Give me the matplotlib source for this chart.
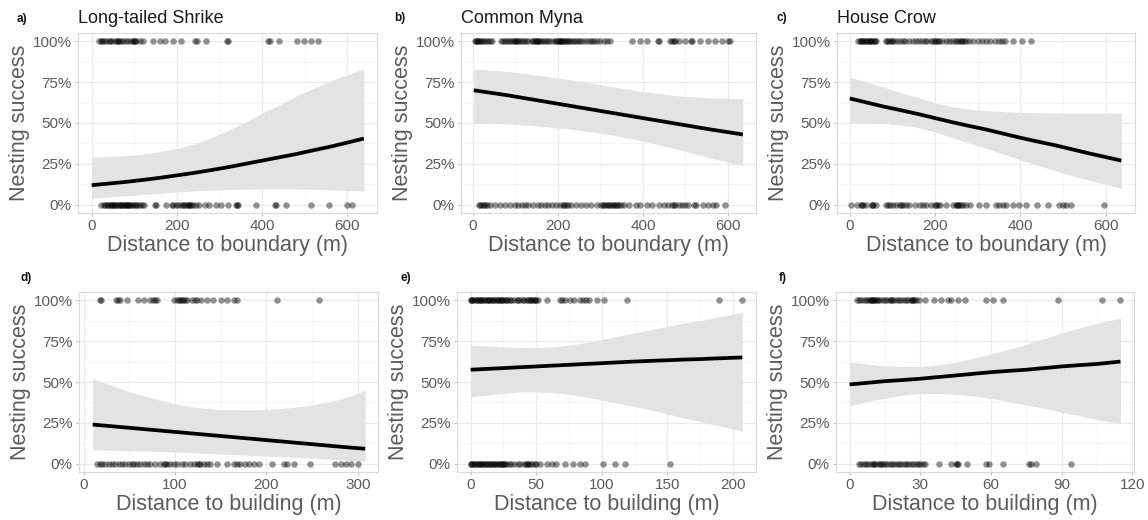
import matplotlib
matplotlib.use("Agg")
import matplotlib.pyplot as plt
from matplotlib.ticker import MultipleLocator

plt.rcParams['font.family'] = ['Liberation Sans', 'DejaVu Sans']

# ---------------- data ----------------
titles = ["Long-tailed Shrike", "Common Myna", "House Crow", "", "", ""]
letters = ["a)", "b)", "c)", "d)", "e)", "f)"]
xlabels = ["Distance to boundary (m)"] * 3 + ["Distance to building (m)"] * 3
y_ticks = [0, 0.25, 0.5, 0.75, 1.0]
y_ticklabels = ["0%", "25%", "50%", "75%", "100%"]

# Panel a – Long-tailed Shrike vs boundary
a_succ_x = [17, 21, 25, 30, 34, 40, 43, 48, 55, 60, 63, 65, 70, 74, 80, 86, 92, 96, 100, 102,
            104, 113, 121, 144, 160, 173, 191, 210, 243, 247, 269, 317, 320, 415, 418, 440,
            483, 499, 514, 531]
a_fail_x = [23, 28, 31, 35, 39, 43, 45, 47, 50, 52, 55, 58, 62, 65, 68, 70, 72, 75, 78, 80,
            83, 86, 88, 90, 94, 97, 101, 105, 110, 113, 118, 122, 148, 150, 175, 189, 192, 199,
            203, 210, 214, 218, 222, 226, 228, 232, 234, 238, 245, 253, 265, 275, 292, 304, 319,
            339, 341, 343, 386, 430, 432, 457, 514, 557, 600, 612]
a_fit_x = [0, 40, 80, 120, 160, 200, 240, 280, 320, 360, 400, 440, 480, 520, 560, 600, 639]
a_fit = [0.12, 0.13, 0.14, 0.152, 0.165, 0.18, 0.195, 0.212, 0.23, 0.25, 0.27, 0.29, 0.31,
         0.333, 0.355, 0.38, 0.405]
a_hi = [0.29, 0.295, 0.30, 0.31, 0.325, 0.345, 0.37, 0.41, 0.455, 0.505, 0.56, 0.61, 0.665,
        0.71, 0.755, 0.795, 0.83]
a_lo = [0.04, 0.048, 0.055, 0.063, 0.07, 0.078, 0.085, 0.09, 0.093, 0.096, 0.097, 0.097,
        0.097, 0.095, 0.092, 0.088, 0.085]

# Panel b – Common Myna vs boundary
b_succ_x = [5, 8, 10, 12, 15, 18, 22, 26, 30, 35, 40, 45, 65, 70, 75, 80, 85, 90, 95, 98, 100,
            103, 106, 110, 115, 120, 125, 130, 138, 142, 145, 148, 150, 153, 156, 160, 165, 170,
            175, 180, 185, 192, 196, 200, 203, 206, 208, 210, 213, 216, 220, 223, 226, 230, 235,
            240, 245, 250, 255, 262, 268, 275, 280, 285, 292, 300, 308, 315, 322, 375, 394, 410,
            436, 438, 464, 468, 472, 476, 484, 499, 512, 515, 534, 553, 569, 585, 600, 604]
b_fail_x = [15, 17, 22, 25, 28, 33, 41, 53, 64, 76, 88, 99, 107, 115, 123, 130, 142, 154, 161,
            169, 177, 185, 196, 204, 212, 215, 220, 223, 231, 243, 255, 266, 278, 293, 301, 305,
            309, 313, 317, 321, 325, 329, 332, 336, 340, 344, 348, 356, 367, 383, 394, 410, 422,
            437, 449, 460, 468, 472, 476, 484, 491, 499, 507, 519, 526, 542, 554, 565, 573, 592]
b_fit_x = [2, 80, 160, 240, 320, 400, 480, 560, 635]
b_fit = [0.70, 0.67, 0.635, 0.60, 0.565, 0.53, 0.495, 0.46, 0.43]
b_hi = [0.83, 0.815, 0.79, 0.76, 0.725, 0.692, 0.667, 0.652, 0.65]
b_lo = [0.50, 0.495, 0.48, 0.46, 0.43, 0.39, 0.34, 0.285, 0.24]

# Panel c – House Crow vs boundary
c_succ_x = [20, 23, 26, 29, 32, 35, 38, 41, 44, 47, 50, 53, 56, 59, 62, 85, 88, 92, 96, 100,
            104, 110, 117, 124, 130, 140, 148, 155, 162, 170, 176, 182, 190, 196, 200, 203, 206,
            210, 216, 225, 232, 240, 246, 252, 256, 260, 264, 268, 272, 280, 290, 300, 310, 320,
            330, 340, 350, 357, 365, 382, 405, 425]
c_fail_x = [4, 16, 27, 29, 31, 39, 51, 53, 55, 62, 86, 90, 94, 101, 109, 117, 120, 125, 132,
            140, 152, 164, 171, 179, 191, 199, 203, 207, 211, 226, 242, 249, 251, 253, 257, 261,
            265, 273, 281, 304, 320, 343, 351, 359, 366, 382, 398, 413, 440, 464, 491, 499, 507,
            518, 596]
c_fit_x = [0, 40, 80, 120, 160, 200, 240, 280, 320, 360, 400, 440, 480, 520, 560, 600, 637]
c_fit = [0.65, 0.625, 0.60, 0.578, 0.555, 0.53, 0.505, 0.482, 0.46, 0.435, 0.41, 0.387,
         0.365, 0.34, 0.315, 0.292, 0.27]
c_hi = [0.78, 0.75, 0.72, 0.685, 0.655, 0.625, 0.60, 0.585, 0.575, 0.57, 0.565, 0.562,
        0.56, 0.56, 0.56, 0.56, 0.56]
c_lo = [0.50, 0.50, 0.497, 0.488, 0.472, 0.445, 0.41, 0.378, 0.345, 0.31, 0.275, 0.242,
        0.21, 0.18, 0.15, 0.125, 0.10]

# Panel d – Long-tailed Shrike vs building
d_succ_x = [18, 19, 35, 38, 40, 47, 60, 66, 73, 76, 78, 80, 99, 102, 104, 106, 108, 109, 111,
            113, 119, 122, 124, 128, 135, 142, 150, 157, 164, 168, 212, 257]
d_fail_x = [14.6, 17.5, 20, 23.7, 27.4, 31, 34.7, 38.3, 42, 45.6, 49.3, 53, 54.7, 58.4, 62,
            65.7, 69.3, 73, 78.5, 84, 87.6, 89.4, 91.2, 95, 98.5, 102, 107.7, 111.3, 116.8,
            120.4, 124, 126, 127.7, 131.4, 135, 138.7, 146, 157, 164, 168, 171.5, 177, 180.7,
            186, 191.6, 206, 219, 222.6, 230, 248, 275.5, 281, 286.5, 292, 300]
d_fit_x = [10, 30, 50, 70, 90, 110, 130, 150, 170, 190, 210, 230, 250, 270, 290, 308]
d_fit = [0.24, 0.23, 0.22, 0.21, 0.20, 0.19, 0.18, 0.17, 0.16, 0.15, 0.14, 0.13, 0.12, 0.11,
         0.10, 0.092]
d_hi = [0.52, 0.48, 0.44, 0.41, 0.38, 0.355, 0.34, 0.332, 0.33, 0.33, 0.335, 0.345, 0.36,
        0.38, 0.41, 0.45]
d_lo = [0.085, 0.083, 0.08, 0.078, 0.075, 0.07, 0.065, 0.06, 0.055, 0.05, 0.045, 0.04,
        0.035, 0.027, 0.02, 0.015]

# Panel e – Common Myna vs building
e_succ_x = [0, 0.5, 1, 2, 3, 4.5, 5, 6, 7.5, 8, 9, 10, 11, 12.5, 13, 14, 15, 16.5, 17, 18,
            19, 20.5, 21, 22, 23.5, 24, 25, 26, 27.5, 28, 30, 31, 33, 35, 36, 38, 40, 41, 43,
            44, 45, 46, 47, 48, 49, 50, 51, 58, 68, 70, 72, 76, 79, 83, 86, 88, 90, 96, 102,
            119, 189, 207]
e_fail_x = [0, 0.5, 1, 2.5, 3, 4, 5.5, 6, 7, 8.5, 9, 10, 11.5, 12, 13, 14.5, 15, 16, 17.5,
            18, 19, 20, 21.5, 22, 23, 24.5, 25, 26, 27, 29, 31, 33, 36, 38, 41, 42, 43, 44, 45,
            47, 49, 50, 53, 58, 62, 65, 72, 78, 83, 87, 101, 110, 118, 152]
e_fit_x = [0, 12, 25, 37, 50, 62, 75, 87, 100, 112, 125, 137, 150, 162, 175, 190, 207]
e_fit = [0.575, 0.58, 0.585, 0.59, 0.595, 0.60, 0.605, 0.61, 0.615, 0.62, 0.625, 0.629,
         0.633, 0.637, 0.64, 0.645, 0.65]
e_hi = [0.725, 0.72, 0.715, 0.71, 0.71, 0.715, 0.725, 0.74, 0.76, 0.78, 0.80, 0.82, 0.84,
        0.86, 0.875, 0.90, 0.925]
e_lo = [0.41, 0.42, 0.43, 0.44, 0.44, 0.435, 0.425, 0.41, 0.39, 0.37, 0.35, 0.33, 0.305,
        0.28, 0.26, 0.23, 0.20]

# Panel f – House Crow vs building
f_succ_x = [3, 4, 5, 6, 7, 8, 8.5, 9, 9.5, 10, 10.5, 11, 11.5, 12, 13, 14, 15, 16, 17, 17.5,
            18, 19, 20, 21, 22, 23, 24, 25, 26, 26.5, 27, 27.5, 28, 29.5, 32, 36, 39, 42, 43,
            46, 49, 58, 61, 65, 88.5, 107, 115]
f_fail_x = [4, 5, 6, 7, 8, 9, 10, 10.5, 11, 12, 13, 13.5, 14, 15, 16, 17, 18, 19, 20, 21, 22,
            23, 24, 25, 26, 27, 28, 29, 30, 31, 32, 38, 43, 45, 45.5, 46, 50, 58, 59, 65, 76,
            77, 79, 94]
f_fit_x = [0, 7.5, 15, 22.5, 30, 37.5, 45, 52.5, 60, 67.5, 75, 82.5, 90, 97.5, 105, 115]
f_fit = [0.485, 0.495, 0.505, 0.512, 0.52, 0.53, 0.54, 0.55, 0.56, 0.568, 0.575, 0.585,
         0.595, 0.603, 0.61, 0.625]
f_hi = [0.62, 0.61, 0.60, 0.595, 0.595, 0.605, 0.62, 0.645, 0.67, 0.70, 0.73, 0.765, 0.80,
        0.83, 0.86, 0.89]
f_lo = [0.355, 0.38, 0.40, 0.42, 0.43, 0.43, 0.425, 0.415, 0.40, 0.38, 0.36, 0.34, 0.315,
        0.295, 0.27, 0.245]

panels = [
    (a_succ_x, a_fail_x, a_fit_x, a_fit, a_lo, a_hi),
    (b_succ_x, b_fail_x, b_fit_x, b_fit, b_lo, b_hi),
    (c_succ_x, c_fail_x, c_fit_x, c_fit, c_lo, c_hi),
    (d_succ_x, d_fail_x, d_fit_x, d_fit, d_lo, d_hi),
    (e_succ_x, e_fail_x, e_fit_x, e_fit, e_lo, e_hi),
    (f_succ_x, f_fail_x, f_fit_x, f_fit, f_lo, f_hi),
]
x_lims = [(-32, 670), (-28, 666), (-30, 669), (-5, 322), (-10.4, 217.5), (-5.75, 120.75)]
x_major = [200, 200, 200, 100, 50, 30]

# ---------------- layout ----------------
W, H = 1148, 520
boxes = [(78, 33, 299, 180), (461, 33, 295, 180), (837, 33, 298, 180),
         (79, 292, 299, 180), (457, 292, 299, 180), (836, 292, 298, 180)]
letter_pos = [(22, 19), (400, 18), (782, 18), (26, 278), (406, 278), (783, 278)]

fig = plt.figure(figsize=(W / 100, H / 100), dpi=100)
fig.patch.set_facecolor("white")

txt_col = "#5c5c5c"
for i, (succ, fail, fx, fy, lo, hi) in enumerate(panels):
    l, t, w, h = boxes[i]
    ax = fig.add_axes([l / W, 1 - (t + h) / H, w / W, h / H])
    ax.set_xlim(*x_lims[i])
    ax.set_ylim(-0.05, 1.05)
    ax.xaxis.set_major_locator(MultipleLocator(x_major[i]))
    ax.xaxis.set_minor_locator(MultipleLocator(x_major[i] / 2))
    ax.set_yticks(y_ticks)
    ax.set_yticklabels(y_ticklabels)
    ax.yaxis.set_minor_locator(MultipleLocator(0.125))
    ax.grid(True, which="major", color="#ebebeb", lw=0.9, zorder=0)
    ax.grid(True, which="minor", color="#f4f4f4", lw=0.6, zorder=0)
    ax.set_axisbelow(True)
    for s in ax.spines.values():
        s.set_color("#dadada")
        s.set_linewidth(0.8)
    ax.tick_params(which="major", length=2.5, width=0.6, color="#b3b3b3", pad=2,
                   labelsize=11, labelcolor=txt_col)
    ax.tick_params(which="minor", length=0)

    ax.fill_between(fx, lo, hi, color="#e3e3e3", lw=0, zorder=1)
    ax.scatter(succ, [1.0] * len(succ), s=22, color="black", alpha=0.42, lw=0, zorder=2)
    ax.scatter(fail, [0.0] * len(fail), s=22, color="black", alpha=0.42, lw=0, zorder=2)
    ax.plot(fx, fy, color="black", lw=2.7, solid_capstyle="butt", zorder=3)

    ax.set_xlabel(xlabels[i], fontsize=15.5, color=txt_col, labelpad=1)
    ax.set_ylabel("Nesting success", fontsize=15.5, color=txt_col, labelpad=2)
    if titles[i]:
        ax.set_title(titles[i], loc="left", fontsize=13, color="#1a1a1a", pad=7)
    lx, ly = letter_pos[i]
    fig.text(lx / W, 1 - ly / H, letters[i], fontsize=8.5, fontweight="bold",
             ha="center", va="center", color="#111111")

fig.savefig("out.png", dpi=100, facecolor="white")
